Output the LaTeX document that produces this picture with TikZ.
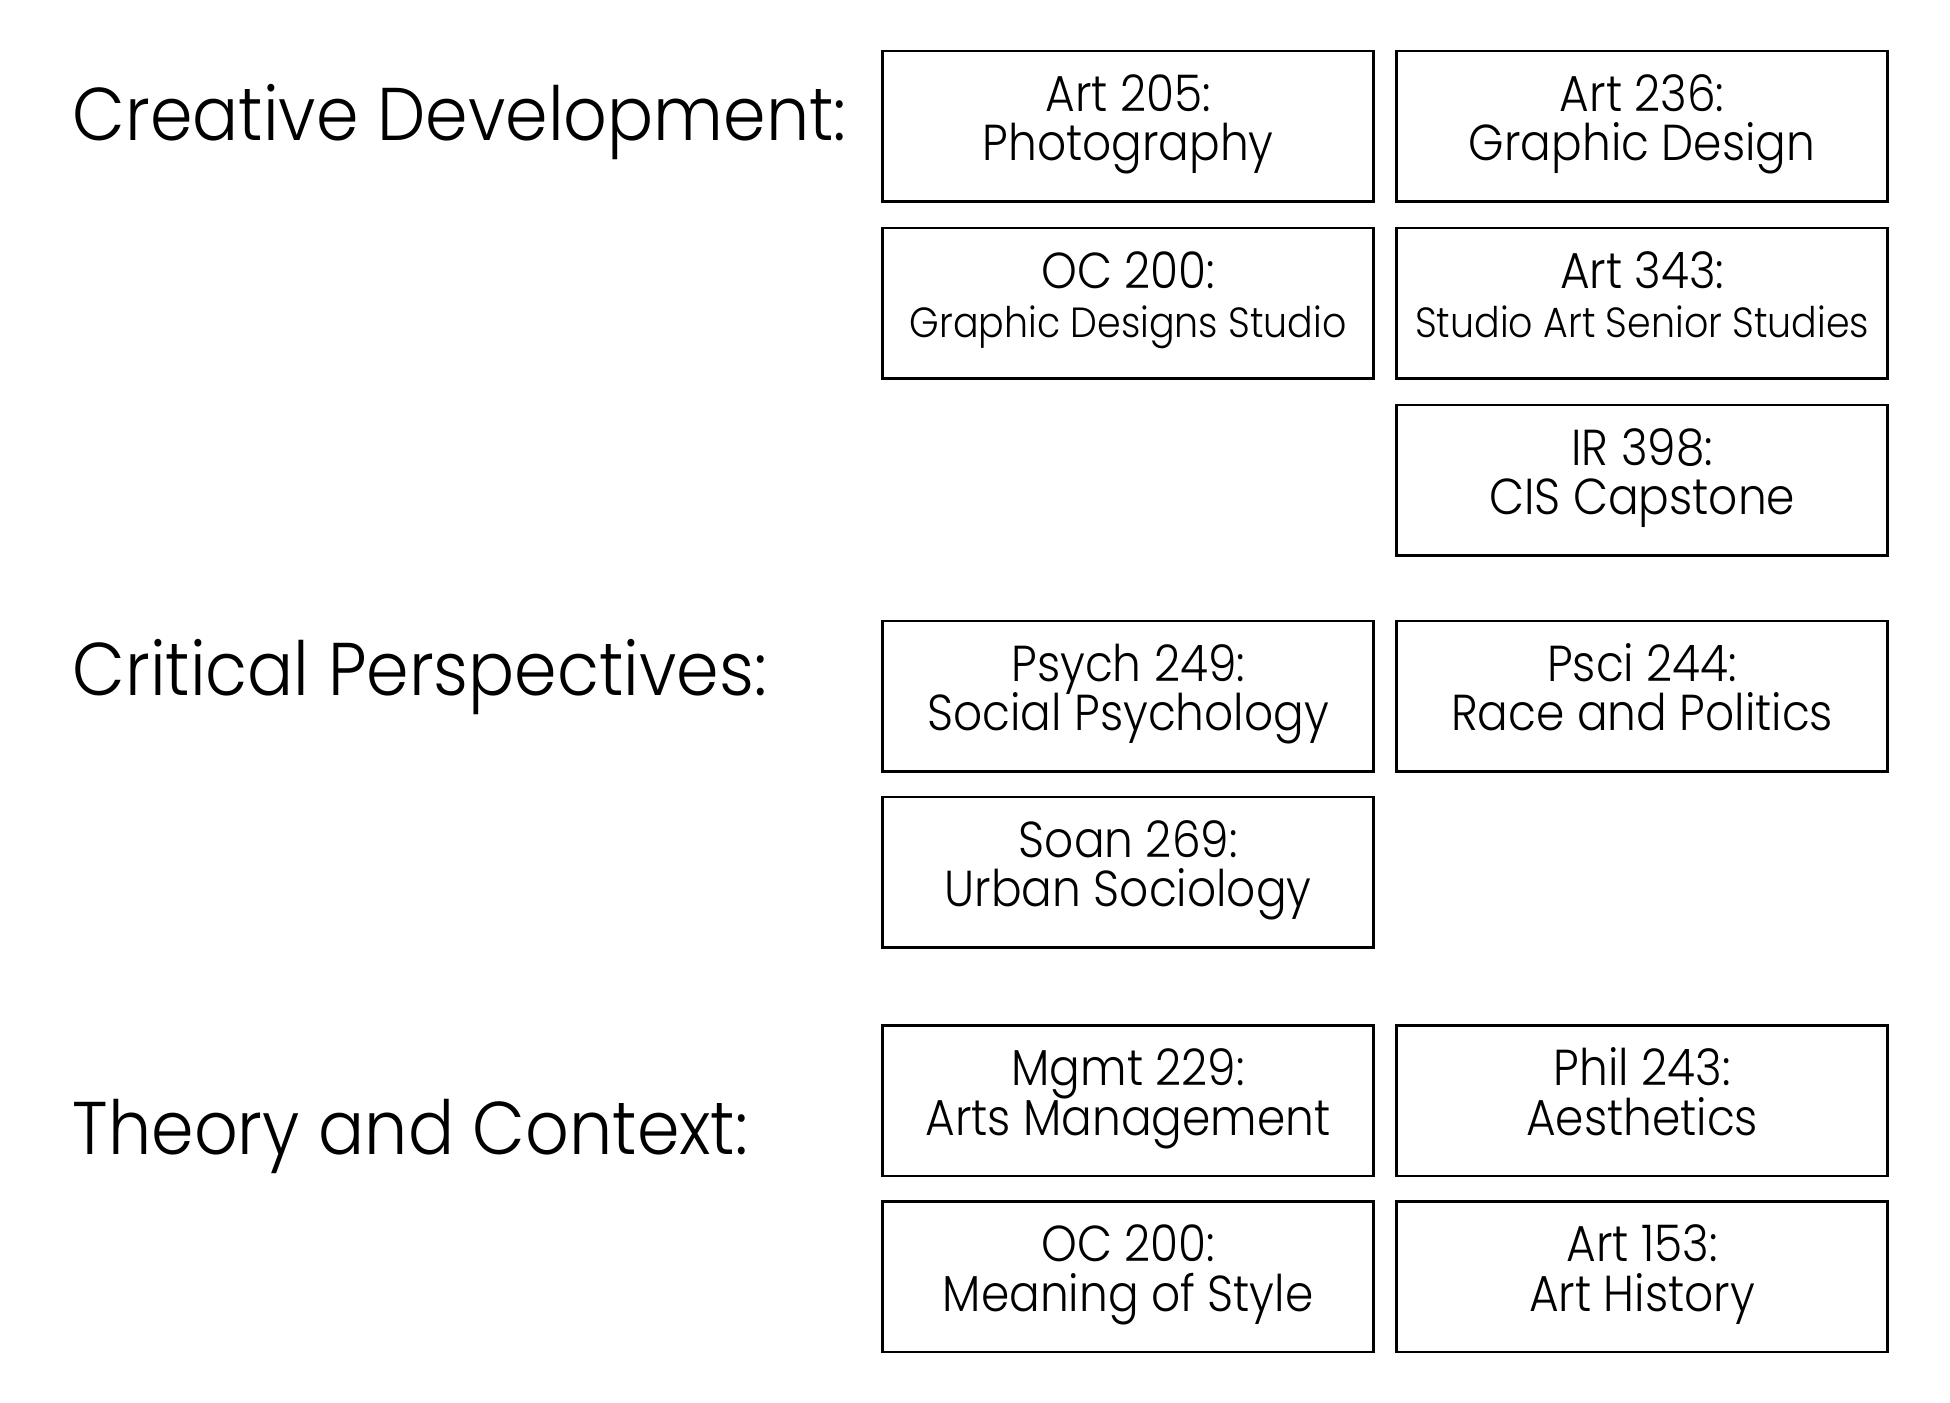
\documentclass[tikz,border=0pt]{standalone}
\usepackage{fontspec}
\setmainfont{Poppins}[UprightFont=* Light, FakeStretch=0.9]
\newfontfamily\headfont{Poppins}[UprightFont=* Light, FakeStretch=0.915]
\setlength{\lineskiplimit}{-1cm}
\newcommand{\minor}{\fontsize{9.6}{11.24}\selectfont}
\newcommand{\twolines}[2]{\rule{0pt}{.34cm}#1\\#2\rule[-.185cm]{0pt}{.185cm}}
\tikzset{
    course/.style={draw=black, line width=0.6pt, minimum width=3.93cm,
        minimum height=1.205cm, inner sep=0pt, align=center,
        font=\fontsize{11.5}{11.24}\selectfont},
    heading/.style={anchor=base west, inner sep=0pt,
        font=\headfont\fontsize{17}{19}\selectfont}
}
\begin{document}
\begin{tikzpicture}
            \useasboundingbox (0,0) rectangle (15.6,-11.22);
            % headings
            \node[heading] (creative) at (.575,-1.12) {Creative Development:};
            \node[heading] (critical) at (.575,-5.56) {Critical Perspectives:};
            \node[heading] (theory) at (.575,-9.232) {Theory and Context:};
            % creative development
            \node[course] (art205) at (9.025,-1.009) {\twolines{Art 205:}{Photography}};
            \node[course] (art236) at (13.137,-1.009) {\twolines{Art 236:}{Graphic Design}};
            \node[course] (oc200a) at (9.025,-2.425) {\twolines{OC 200:}{\minor Graphic Designs Studio}};
            \node[course] (art343) at (13.137,-2.425) {\twolines{Art 343:}{\minor Studio Art Senior Studies}};
            \node[course] (ir398) at (13.137,-3.841) {\twolines{IR 398:}{CIS Capstone}};
            % critical perspectives
            \node[course] (psych249) at (9.025,-5.569) {\twolines{Psych 249:}{Social Psychology}};
            \node[course] (psci244) at (13.137,-5.569) {\twolines{Psci 244:}{Race and Politics}};
            \node[course] (soan269) at (9.025,-6.977) {\twolines{Soan 269:}{Urban Sociology}};
            % theory and context
            \node[course] (mgmt229) at (9.025,-8.805) {\twolines{Mgmt 229:}{Arts Management}};
            \node[course] (phil243) at (13.137,-8.805) {\twolines{Phil 243:}{Aesthetics}};
            \node[course] (oc200b) at (9.025,-10.213) {\twolines{OC 200:}{Meaning of Style}};
            \node[course] (art153) at (13.137,-10.213) {\twolines{Art 153:}{Art History}};
        \end{tikzpicture}
\end{document}
